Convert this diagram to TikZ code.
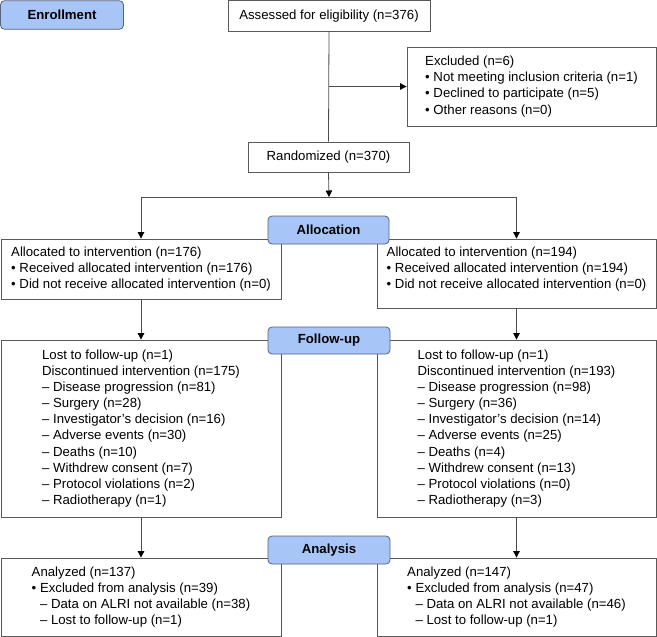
\documentclass[tikz,border=0pt]{standalone}
\usepackage{fontspec}
\setmainfont{Liberation Sans}
\usetikzlibrary{arrows.meta}
\definecolor{labblue}{HTML}{A8C5F8}
\definecolor{labedge}{HTML}{55627A}
\begin{document}
\begin{tikzpicture}[x=1pt,y=-1pt,
  font=\fontsize{13.2}{16.1}\selectfont,
  box/.style={draw=black!65, line width=0.8pt, align=left, inner sep=0pt, fill=white},
  lab/.style={draw=labedge, line width=0.8pt, fill=labblue, rounded corners=4pt, inner sep=0pt,
    font=\fontsize{13.2}{16}\selectfont\bfseries},
  conn/.style={draw=black!70, line width=0.8pt},
  arr/.style={conn, -{Triangle[length=6.5pt,width=6.5pt,color=black]}}]
\useasboundingbox (0,0) rectangle (657,637);

% boxes
\node[box, minimum width=202pt, minimum height=30.5pt] (assess) at (329,15.75) {Assessed for eligibility (n=376)};
\node[box, minimum width=249pt, minimum height=79pt] (excl) at (531.5,86.5)
  {Excluded (n=6)\\
   •\ Not meeting inclusion criteria (n=1)\\
   •\ Declined to participate (n=5)\\
   •\ Other reasons (n=0)};
\node[box, minimum width=161pt, minimum height=30pt] (rand) at (328.5,157) {Randomized (n=370)};

\node[box, minimum width=280pt, minimum height=60pt] (allocL) at (141,269)
  {Allocated to intervention (n=176)\\
   •\ Received allocated intervention (n=176)\\
   •\ Did not receive allocated intervention (n=0)};
\node[box, minimum width=279pt, minimum height=69pt, text depth=12pt] (allocR) at (516.5,273.5)
  {Allocated to intervention (n=194)\\
   •\ Received allocated intervention (n=194)\\
   •\ Did not receive allocated intervention (n=0)};

\node[box, minimum width=280pt, minimum height=177pt] (fuL) at (141,428.5)
  {Lost to follow-up (n=1)\\
   Discontinued intervention (n=175)\\
   – Disease progression (n=81)\\
   – Surgery (n=28)\\
   – Investigator’s decision (n=16)\\
   – Adverse events (n=30)\\
   – Deaths (n=10)\\
   – Withdrew consent (n=7)\\
   – Protocol violations (n=2)\\
   – Radiotherapy (n=1)};
\node[box, minimum width=279pt, minimum height=177pt] (fuR) at (516.5,428.5)
  {Lost to follow-up (n=1)\\
   Discontinued intervention (n=193)\\
   – Disease progression (n=98)\\
   – Surgery (n=36)\\
   – Investigator’s decision (n=14)\\
   – Adverse events (n=25)\\
   – Deaths (n=4)\\
   – Withdrew consent (n=13)\\
   – Protocol violations (n=0)\\
   – Radiotherapy (n=3)};

\node[box, minimum width=280pt, minimum height=78pt] (anL) at (141,597)
  {Analyzed (n=137)\\
   •\ Excluded from analysis (n=39)\\
   \hphantom{•\ }– Data on ALRI not available (n=38)\\
   \hphantom{•\ }– Lost to follow-up (n=1)};
\node[box, minimum width=279pt, minimum height=78pt] (anR) at (516.5,597)
  {Analyzed (n=147)\\
   •\ Excluded from analysis (n=47)\\
   \hphantom{•\ }– Data on ALRI not available (n=46)\\
   \hphantom{•\ }– Lost to follow-up (n=1)};

% connectors
\coordinate (split) at (329,197);
\coordinate (splitL) at (141,197);
\coordinate (splitR) at (516.5,197);
\draw[conn] (assess.south) -- (rand.north);
\draw[arr] (assess.south |- excl.west) -- (excl.west);
\draw[arr] (rand.south) -- (split);
\draw[conn] (splitL) -- (splitR);
\draw[arr] (splitL) -- (allocL.north);
\draw[arr] (splitR) -- (allocR.north);
\draw[arr] (allocL.south) -- (fuL.north);
\draw[arr] (allocR.south) -- (fuR.north);
\draw[arr] (fuL.south) -- (anL.north);
\draw[arr] (fuR.south) -- (anR.north);

% stage labels
\node[lab, minimum width=123pt, minimum height=28.5pt] (enroll) at (62,15) {Enrollment};
\node[lab, minimum width=121pt, minimum height=28pt] (allocLab) at (328.5,230) {Allocation};
\node[lab, minimum width=122pt, minimum height=27pt] (fuLab) at (329,340.5) {Follow-up};
\node[lab, minimum width=122pt, minimum height=28pt] (anLab) at (329,550) {Analysis};
\end{tikzpicture}
\end{document}
